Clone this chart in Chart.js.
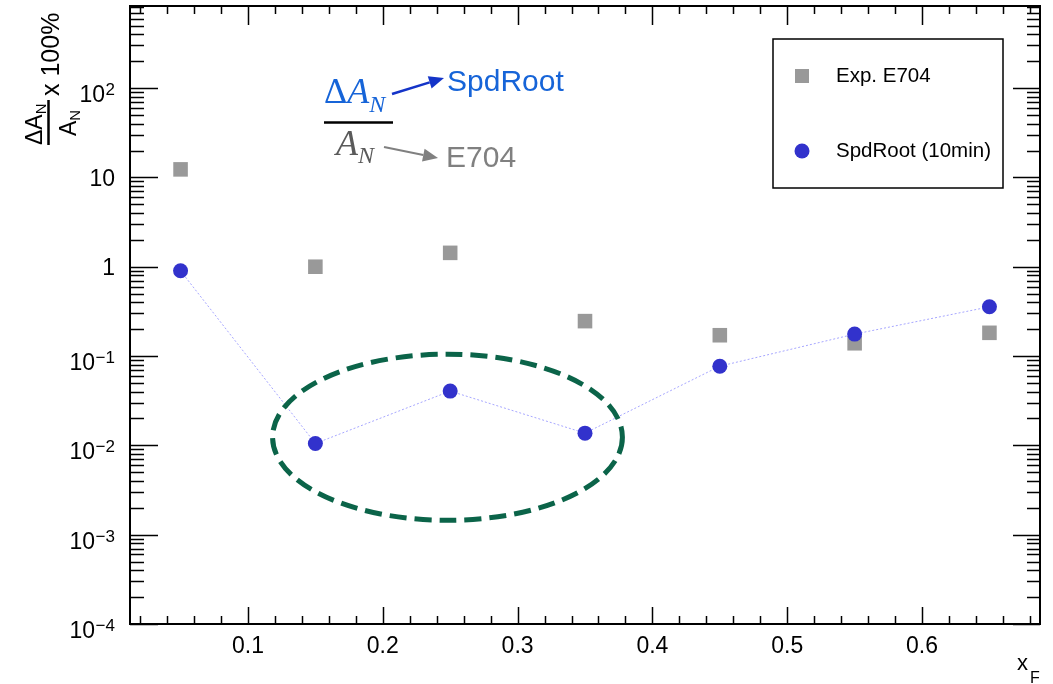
<!DOCTYPE html>
<html><head><meta charset="utf-8">
<script src="https://cdn.jsdelivr.net/npm/chart.js@4/dist/chart.umd.min.js"></script>
<style>html,body{margin:0;padding:0;background:#fff;} #wrap{width:1053px;height:684px;position:relative;}</style>
</head><body><div id="wrap"><canvas id="c"></canvas></div>
<script>
// ---- data ----
const xF = [0.05, 0.15, 0.25, 0.35, 0.45, 0.55, 0.65];
const e704 = [12.3, 1.0, 1.43, 0.246, 0.171, 0.139, 0.182];
const spdRoot = [0.90, 0.0105, 0.0405, 0.0137, 0.077, 0.176, 0.356];
const xTickValues = [0.1, 0.2, 0.3, 0.4, 0.5, 0.6];
const xTickLabels = ['0.1', '0.2', '0.3', '0.4', '0.5', '0.6'];
const yTickValues = [1e-4, 1e-3, 1e-2, 1e-1, 1, 10, 100];
const yTickBase = ['10', '10', '10', '10', '1', '10', '10'];
const yTickExp = ['\u22124', '\u22123', '\u22122', '\u22121', '', '', '2'];
const seriesLabels = ['Exp. E704', 'SpdRoot (10min)'];

const SANS = "'Liberation Sans', Arial, Helvetica, sans-serif";
const SERIF = "'Liberation Serif', 'DejaVu Serif', serif";

function arrow(ctx, x1, y1, x2, y2, color, lw, head, hw) {
  const ang = Math.atan2(y2 - y1, x2 - x1);
  ctx.save();
  ctx.strokeStyle = color; ctx.fillStyle = color; ctx.lineWidth = lw;
  ctx.beginPath();
  ctx.moveTo(x1, y1);
  ctx.lineTo(x2 - head * Math.cos(ang), y2 - head * Math.sin(ang));
  ctx.stroke();
  ctx.beginPath();
  ctx.moveTo(x2, y2);
  ctx.lineTo(x2 - head * Math.cos(ang) + hw * Math.sin(ang), y2 - head * Math.sin(ang) - hw * Math.cos(ang));
  ctx.lineTo(x2 - head * Math.cos(ang) - hw * Math.sin(ang), y2 - head * Math.sin(ang) + hw * Math.cos(ang));
  ctx.closePath(); ctx.fill();
  ctx.restore();
}

const framePlugin = {
  id: 'frame',
  afterDatasetsDraw(chart) {
    const ctx = chart.ctx, xs = chart.scales.x, ys = chart.scales.y;
    // dashed ellipse annotation (data coordinates)
    const cx = xs.getPixelForValue(0.248), cy = (ys.getPixelForValue(0.105) + ys.getPixelForValue(0.00145)) / 2;
    const rx = (xs.getPixelForValue(0.378) - xs.getPixelForValue(0.1185)) / 2;
    const ry = (ys.getPixelForValue(0.00145) - ys.getPixelForValue(0.105)) / 2;
    ctx.save();
    ctx.strokeStyle = '#0b6449'; ctx.lineWidth = 5; ctx.setLineDash([17, 8]);
    ctx.beginPath(); ctx.ellipse(cx, cy, rx, ry, 0, 0, Math.PI * 2); ctx.stroke();
    ctx.restore();
  },
  afterDraw(chart) {
    const ctx = chart.ctx, a = chart.chartArea, xs = chart.scales.x, ys = chart.scales.y;
    ctx.save();
    ctx.strokeStyle = '#000'; ctx.lineWidth = 1.5;
    ctx.beginPath();
    // x ticks (bottom & top, inward)
    for (let i = 1; i <= 34; i++) {
      const v = i * 0.02;
      if (v < xs.min || v > xs.max) continue;
      const major = (i % 5 === 0);
      const px = Math.round(xs.getPixelForValue(v)) + 0.5;
      const lb = major ? 17 : 8, lt = major ? 19 : 8;
      ctx.moveTo(px, a.bottom); ctx.lineTo(px, a.bottom - lb);
      ctx.moveTo(px, a.top); ctx.lineTo(px, a.top + lt);
    }
    // y ticks (left & right, inward)
    for (let e = -4; e <= 2; e++) {
      for (let m = 1; m <= 9; m++) {
        const v = m * Math.pow(10, e);
        if (v < ys.min || v > ys.max) continue;
        const major = (m === 1);
        const py = Math.round(ys.getPixelForValue(v)) + 0.5;
        const len = major ? 28 : 14;
        ctx.moveTo(a.left, py); ctx.lineTo(a.left + len, py);
        ctx.moveTo(a.right, py); ctx.lineTo(a.right - (major ? 27 : 13), py);
      }
    }
    ctx.stroke();
    ctx.lineWidth = 2;
    ctx.strokeRect(a.left, a.top, a.right - a.left, a.bottom - a.top);

    // y tick labels with raised exponents
    ctx.fillStyle = '#000'; ctx.textAlign = 'right'; ctx.textBaseline = 'alphabetic';
    yTickValues.forEach((v, i) => {
      const py = ys.getPixelForValue(v);
      const rx = a.left - 15;
      if (yTickExp[i]) {
        ctx.font = '17px ' + SANS;
        const ew = ctx.measureText(yTickExp[i]).width;
        ctx.fillText(yTickExp[i], rx, py + 7);
        ctx.font = '23px ' + SANS;
        ctx.fillText(yTickBase[i], rx - ew - 0.5, py + 14);
      } else {
        ctx.font = '23px ' + SANS;
        ctx.fillText(yTickBase[i], rx, py + 8.5);
      }
    });
    ctx.textAlign = 'left';

    // legend
    ctx.lineWidth = 1.5;
    ctx.strokeRect(773, 39, 230, 149);
    const ds = chart.data.datasets;
    ctx.fillStyle = ds[0].backgroundColor;
    ctx.fillRect(795, 69, 14, 14);
    ctx.fillStyle = ds[1].backgroundColor;
    ctx.beginPath(); ctx.arc(802, 151, 7.5, 0, Math.PI * 2); ctx.fill();
    ctx.fillStyle = '#000'; ctx.font = '20.5px ' + SANS; ctx.textBaseline = 'middle';
    ctx.fillText(ds[0].label, 836, 76);
    ctx.fillText(ds[1].label, 836, 151);

    // x axis title
    ctx.textBaseline = 'alphabetic';
    ctx.font = '22px ' + SANS; ctx.fillText('x', 1017, 670);
    ctx.font = '16px ' + SANS; ctx.fillText('F', 1030, 683);

    // y axis title (rotated)
    ctx.save();
    ctx.rotate(-Math.PI / 2);
    ctx.fillStyle = '#000';
    ctx.font = '23px ' + SANS; ctx.fillText('\u0394A', -145, 42);
    let w = ctx.measureText('\u0394A').width;
    ctx.font = '15px ' + SANS; ctx.fillText('N', -145 + w, 46);
    ctx.font = '23px ' + SANS; ctx.fillText('A', -136, 76);
    w = ctx.measureText('A').width;
    ctx.font = '15px ' + SANS; ctx.fillText('N', -136 + w, 80);
    ctx.lineWidth = 2.5; ctx.beginPath(); ctx.moveTo(-145, 48.5); ctx.lineTo(-100, 48.5); ctx.stroke();
    ctx.font = '25px ' + SANS; ctx.fillText('x 100%', -96, 59);
    ctx.restore();

    // formula annotation
    ctx.fillStyle = '#1664d8';
    ctx.font = '36px ' + SERIF; ctx.fillText('\u0394', 324, 103);
    w = ctx.measureText('\u0394').width;
    ctx.font = 'italic 36px ' + SERIF; ctx.fillText('A', 324 + w, 103);
    let w2 = ctx.measureText('A').width;
    ctx.font = 'italic 24px ' + SERIF; ctx.fillText('N', 324 + w + w2, 112);
    ctx.strokeStyle = '#000'; ctx.lineWidth = 2.5;
    ctx.beginPath(); ctx.moveTo(324, 122.5); ctx.lineTo(393, 122.5); ctx.stroke();
    ctx.fillStyle = '#5a5a5a';
    ctx.font = 'italic 36px ' + SERIF; ctx.fillText('A', 336, 155);
    w = ctx.measureText('A').width;
    ctx.font = 'italic 24px ' + SERIF; ctx.fillText('N', 336 + w, 163);
    arrow(ctx, 392, 94, 444, 78, '#1434c8', 2.5, 15, 6.5);
    arrow(ctx, 384, 147, 438, 158, '#808080', 2.2, 15, 6.5);
    ctx.font = '30px ' + SANS;
    ctx.fillStyle = '#1664d8'; ctx.fillText('SpdRoot', 447, 91);
    ctx.fillStyle = '#808080'; ctx.fillText('E704', 446, 167);
    ctx.restore();
  }
};

new Chart(document.getElementById('c'), {
  type: 'scatter',
  data: {
    datasets: [
      {
        label: seriesLabels[0],
        data: xF.map((x, i) => ({ x: x, y: e704[i] })),
        pointStyle: 'rect', pointRadius: 10.3, pointHoverRadius: 10.3,
        backgroundColor: '#999999', borderColor: '#999999', borderWidth: 0,
        showLine: false, order: 1
      },
      {
        label: seriesLabels[1],
        data: xF.map((x, i) => ({ x: x, y: spdRoot[i] })),
        pointStyle: 'circle', pointRadius: 7.5, pointHoverRadius: 7.5,
        backgroundColor: '#3232cc', pointBorderColor: '#3232cc', pointBorderWidth: 0,
        borderColor: '#a6a6ff', borderWidth: 1, borderDash: [2, 2],
        showLine: true, order: 0
      }
    ]
  },
  options: {
    responsive: true, maintainAspectRatio: false, animation: false,
    layout: { autoPadding: false, padding: { left: 0, top: 6, right: 13, bottom: 0 } },
    plugins: { legend: { display: false }, tooltip: { enabled: false } },
    scales: {
      x: {
        type: 'linear', min: 0.0125, max: 0.6875,
        grid: { display: false, drawTicks: false }, border: { display: false },
        afterBuildTicks: s => { s.ticks = xTickValues.map(v => ({ value: v })); },
        afterFit: s => { s.height = 60; s.paddingLeft = 0; s.paddingRight = 0; },
        ticks: { padding: 9, color: '#000', font: { family: SANS, size: 23 }, maxRotation: 0, autoSkip: false,
          callback: (v, i) => xTickLabels[i] }
      },
      y: {
        type: 'logarithmic', min: 1e-4, max: 830,
        grid: { display: false, drawTicks: false }, border: { display: false },
        afterBuildTicks: s => { s.ticks = yTickValues.map(v => ({ value: v })); },
        afterFit: s => { s.width = 130; s.paddingTop = 0; s.paddingBottom = 0; },
        ticks: { display: false }
      }
    }
  },
  plugins: [framePlugin]
});
</script></body></html>
